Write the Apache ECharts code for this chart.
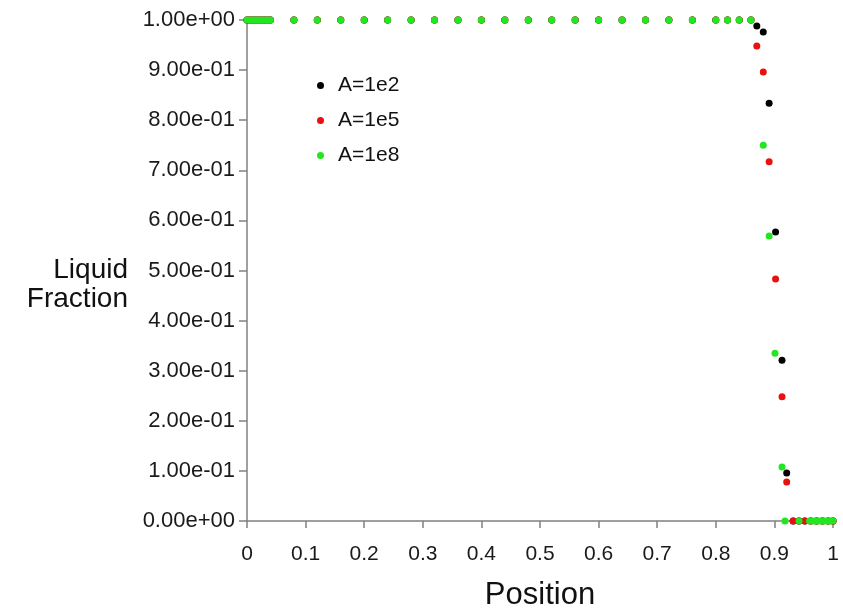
<!DOCTYPE html>
<html>
<head>
<meta charset="utf-8">
<script src="https://cdn.jsdelivr.net/npm/echarts@6/dist/echarts.min.js"></script>
<style>html,body{margin:0;padding:0;background:#fff}#c{width:843px;height:612px}</style>
</head>
<body>
<div id="c"></div>
<script>
// plateau positions (liquid fraction = 1)
var topX = [0, 0.005, 0.01, 0.015, 0.02, 0.025, 0.03, 0.035, 0.04, 0.08, 0.12, 0.16, 0.20, 0.24, 0.28, 0.32, 0.36, 0.40, 0.44, 0.48, 0.52, 0.56, 0.60, 0.64, 0.68, 0.72, 0.76, 0.80, 0.82, 0.84, 0.86];
// transition and solid region
var a2X = [0.870, 0.881, 0.891, 0.902, 0.913, 0.921, 0.932, 0.942, 0.952, 0.962, 0.972, 0.982, 0.992, 1.0];
var a2Y = [0.988, 0.976, 0.834, 0.577, 0.321, 0.096, 0, 0, 0, 0, 0, 0, 0, 0];
var a5X = [0.870, 0.881, 0.891, 0.902, 0.913, 0.921, 0.932, 0.942, 0.952, 0.962, 0.972, 0.982, 0.992, 1.0];
var a5Y = [0.948, 0.896, 0.717, 0.483, 0.248, 0.078, 0, 0, 0, 0, 0, 0, 0, 0];
var a8X = [0.881, 0.891, 0.901, 0.913, 0.918, 0.942, 0.96, 0.965, 0.97, 0.975, 0.98, 0.985, 0.99, 0.995, 1.0];
var a8Y = [0.750, 0.569, 0.335, 0.108, 0, 0, 0, 0, 0, 0, 0, 0, 0, 0, 0];
var seriesNames = ['A=1e2', 'A=1e5', 'A=1e8'];
var seriesColors = ['#000000', '#e81010', '#22e622'];

function pts(xs, ys) {
  var out = [];
  for (var i = 0; i < xs.length; i++) out.push([xs[i], ys[i]]);
  return out;
}
function withTop(xs, ys) {
  var d = [];
  topX.forEach(function (x) { d.push([x, 1]); });
  return d.concat(pts(xs, ys));
}
function fmt(v) {
  var s = Number(v).toExponential(2);
  var m = s.match(/^(-?[\d.]+)e([+-])(\d+)$/);
  var e = m[3].length < 2 ? '0' + m[3] : m[3];
  return m[1] + 'e' + m[2] + e;
}
var data = [withTop(a2X, a2Y), withTop(a5X, a5Y), withTop(a8X, a8Y)];
var FONT = 'Liberation Sans, Arial, sans-serif';

var chart = echarts.init(document.getElementById('c'), null, {renderer: 'canvas'});
chart.setOption({
  animation: false,
  backgroundColor: '#ffffff',
  grid: {left: 247, right: 10, top: 20, bottom: 91, containLabel: false, outerBoundsMode: 'none'},
  legend: {
    orient: 'vertical', left: 312, top: 70, itemGap: 14,
    icon: 'circle', itemWidth: 7, itemHeight: 7,
    textStyle: {fontFamily: FONT, fontSize: 21, color: '#111', padding: [0, 0, 0, 9]},
    data: seriesNames
  },
  xAxis: {
    type: 'value', min: 0, max: 1, interval: 0.1,
    name: 'Position', nameLocation: 'middle', nameGap: 59,
    nameTextStyle: {fontFamily: FONT, fontSize: 31, color: '#111'},
    axisLine: {show: true, lineStyle: {color: '#808080', width: 1.5}},
    axisTick: {show: true, length: 7, lineStyle: {color: '#808080', width: 1.5}},
    axisLabel: {margin: 23, fontFamily: FONT, fontSize: 21, color: '#1a1a1a',
      formatter: function (v) { return String(Math.round(v * 10) / 10); }},
    splitLine: {show: false}
  },
  yAxis: {
    type: 'value', min: 0, max: 1, interval: 0.1,
    name: '\nLiquid\nFraction', nameLocation: 'middle', nameGap: 119, nameRotate: 0,
    nameTextStyle: {fontFamily: FONT, fontSize: 28, color: '#111', align: 'right', lineHeight: 29},
    axisLine: {show: true, lineStyle: {color: '#808080', width: 1.5}},
    axisTick: {show: true, length: 8, lineStyle: {color: '#808080', width: 1.5}},
    axisLabel: {margin: 12, fontFamily: FONT, fontSize: 22, color: '#1a1a1a', formatter: fmt},
    splitLine: {show: false}
  },
  series: data.map(function (d, i) {
    return {
      name: seriesNames[i], type: 'scatter', data: d,
      symbol: 'circle', symbolSize: 7,
      itemStyle: {color: seriesColors[i], opacity: 1},
      z: 2 + i
    };
  })
});
</script>
</body>
</html>
